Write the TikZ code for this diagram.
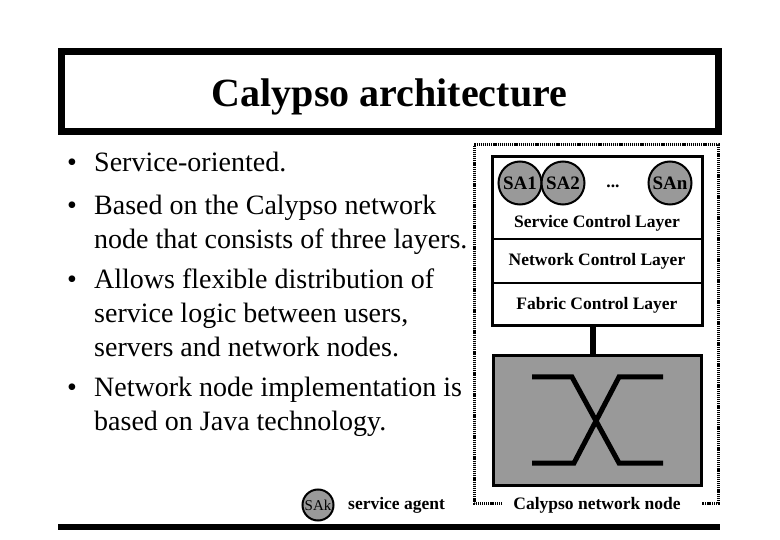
\documentclass[tikz,border=0pt]{standalone}
\usepackage{fontspec}
\setmainfont{Liberation Serif}
\definecolor{midgray}{HTML}{999999}
\begin{document}
\begin{tikzpicture}[x=1pt,y=-1pt,
  bullettext/.style={anchor=base west, inner sep=0pt, font=\fontsize{28}{34}\selectfont},
  agent/.style={circle, draw, line width=2pt, fill=midgray, minimum size=43pt, inner sep=0pt, font=\fontsize{19}{22}\selectfont\bfseries},
  layerlabel/.style={inner sep=0pt, font=\fontsize{17.5}{20}\selectfont\bfseries},
  dotline/.style={line width=3pt, dash pattern=on 1.2pt off 0.9pt},
  heavy/.style={line width=6pt}
]
\useasboundingbox (0,0) rectangle (780,540);

% title
\node[draw, line width=7pt, minimum width=657pt, minimum height=80pt, inner sep=0pt] (titlebox) at (389.5,92) {};
\node[inner sep=0pt, font=\fontsize{40}{48}\selectfont\bfseries] (title) at (389.5,97) {Calypso architecture};

% bottom rule
\coordinate (ruleL) at (58,527);
\coordinate (ruleR) at (720,527);
\draw[heavy] (ruleL) -- (ruleR);

% bullets
\node[bullettext] (b1) at (67,172) {•};
\node[bullettext] (t1) at (94,172) {Service-oriented.};
\node[bullettext] (b2) at (67,215) {•};
\node[bullettext] (t2a) at (94,215) {Based on the Calypso network};
\node[bullettext] (t2b) at (94,249) {node that consists of three layers.};
\node[bullettext] (b3) at (67,289) {•};
\node[bullettext] (t3a) at (94,289) {Allows flexible distribution of};
\node[bullettext] (t3b) at (94,323) {service logic between users,};
\node[bullettext] (t3c) at (94,357) {servers and network nodes.};
\node[bullettext] (b4) at (67,396) {•};
\node[bullettext] (t4a) at (94,396) {Network node implementation is};
\node[bullettext] (t4b) at (94,430) {based on Java technology.};

% legend
\node[agent, minimum size=31pt, line width=2pt, font=\fontsize{15}{17}\selectfont] (sak) at (318,505) {SAk};
\node[layerlabel, anchor=west] (sakl) at (348,505) {service agent};

% network node frame
\node[layerlabel] (cnn) at (597,505) {Calypso network node};
\coordinate (fBL) at (474,503);
\coordinate (fTL) at (474,145);
\coordinate (fTR) at (718,145);
\coordinate (fBR) at (718,503);
\draw[dotline] (502,503) -- (fBL) -- (fTL) -- (fTR) -- (fBR) -- (702,503);

% layers box
\node[draw, line width=3pt, minimum width=210pt, minimum height=169pt, inner sep=0pt] (layers) at (597,241.5) {};
\draw[line width=2pt] (492,239) -- (702,239);
\draw[line width=2pt] (492,283) -- (702,283);
\node[agent] (sa1) at (520,183) {SA1};
\node[agent] (sa2) at (563,183) {SA2};
\node[agent] (san) at (670,183) {SAn};
\node[layerlabel] (dots) at (613,186) {...};
\node[layerlabel] (scl) at (597,223) {Service Control Layer};
\node[layerlabel] (ncl) at (597,261) {Network Control Layer};
\node[layerlabel] (fcl) at (597,305) {Fabric Control Layer};

% switch fabric
\node[draw, line width=3pt, fill=midgray, minimum width=208pt, minimum height=129pt, inner sep=0pt] (fabric) at (597,420.5) {};
\draw[heavy] ([xshift=-4pt]layers.south) -- ([xshift=-4pt]fabric.north);
\draw[line width=5pt] (532,377) -- (572,377) -- (619,463) -- (663,463);
\draw[line width=5pt] (663,377) -- (619,377) -- (574,463) -- (532,463);
\end{tikzpicture}
\end{document}
